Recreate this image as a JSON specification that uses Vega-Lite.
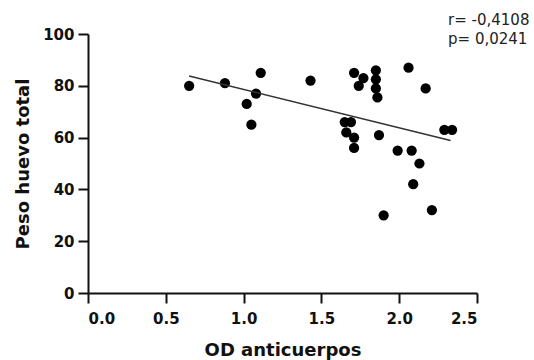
{
  "$schema": "https://vega.github.io/schema/vega-lite/v6.json",
  "width": 389,
  "height": 259,
  "autosize": {"type": "none"},
  "padding": {"top": 34, "left": 88, "right": 57, "bottom": 67},
  "background": "white",
  "view": {"stroke": null},
  "config": {
    "font": "DejaVu Sans",
    "axis": {
      "domainColor": "#111111",
      "domainWidth": 2,
      "tickColor": "#111111",
      "tickWidth": 2,
      "tickSize": 10,
      "grid": false,
      "labelFont": "DejaVu Sans",
      "labelFontWeight": "bold",
      "labelFontSize": 15,
      "labelColor": "#111111",
      "titleFont": "DejaVu Sans",
      "titleFontWeight": "bold",
      "titleFontSize": 18,
      "titleColor": "#111111"
    }
  },
  "datasets": {
    "pts": [
      {"od": 0.65, "peso": 80},
      {"od": 0.88, "peso": 81},
      {"od": 1.11, "peso": 85},
      {"od": 1.02, "peso": 73},
      {"od": 1.08, "peso": 77},
      {"od": 1.05, "peso": 65},
      {"od": 1.43, "peso": 82},
      {"od": 1.71, "peso": 85},
      {"od": 1.77, "peso": 83},
      {"od": 1.74, "peso": 80},
      {"od": 1.85, "peso": 86},
      {"od": 1.85, "peso": 82.5},
      {"od": 1.85, "peso": 79},
      {"od": 1.86, "peso": 75.5},
      {"od": 2.06, "peso": 87},
      {"od": 2.17, "peso": 79},
      {"od": 1.65, "peso": 66},
      {"od": 1.69, "peso": 66},
      {"od": 1.66, "peso": 62},
      {"od": 1.71, "peso": 60},
      {"od": 1.71, "peso": 56},
      {"od": 1.87, "peso": 61},
      {"od": 1.99, "peso": 55},
      {"od": 2.08, "peso": 55},
      {"od": 2.13, "peso": 50},
      {"od": 2.09, "peso": 42},
      {"od": 1.90, "peso": 30},
      {"od": 2.21, "peso": 32},
      {"od": 2.29, "peso": 63},
      {"od": 2.34, "peso": 63}
    ],
    "notes": [
      {"od": 2.314, "peso": 108.2, "label": ["r= -0,4108", "p= 0,0241"]}
    ]
  },
  "layer": [
    {
      "data": {"name": "pts"},
      "mark": {"type": "circle", "size": 105, "color": "#000000", "opacity": 1},
      "encoding": {
        "x": {
          "field": "od", "type": "quantitative",
          "scale": {"domain": [0, 2.5], "nice": false, "zero": false},
          "axis": {"values": [0, 0.5, 1, 1.5, 2, 2.5], "format": ".1f", "title": "OD anticuerpos", "labelPadding": 8, "titlePadding": 15}
        },
        "y": {
          "field": "peso", "type": "quantitative",
          "scale": {"domain": [0, 100], "nice": false},
          "axis": {"values": [0, 20, 40, 60, 80, 100], "title": "Peso huevo total", "labelPadding": 4, "titlePadding": 10}
        }
      }
    },
    {
      "data": {"name": "pts"},
      "transform": [{"regression": "peso", "on": "od", "extent": [0.65, 2.33]}],
      "mark": {"type": "line", "color": "#333333", "strokeWidth": 1.6},
      "encoding": {
        "x": {"field": "od", "type": "quantitative"},
        "y": {"field": "peso", "type": "quantitative"}
      }
    },
    {
      "data": {"name": "notes"},
      "mark": {"type": "text", "align": "left", "baseline": "top", "font": "DejaVu Sans", "fontSize": 15, "lineHeight": 19.5, "color": "#222222"},
      "encoding": {
        "x": {"field": "od", "type": "quantitative"},
        "y": {"field": "peso", "type": "quantitative"},
        "text": {"field": "label"}
      }
    }
  ]
}
